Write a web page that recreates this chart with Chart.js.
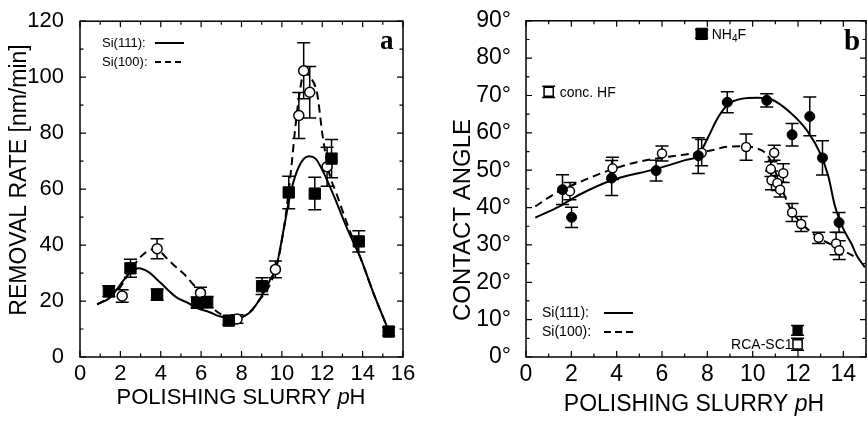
<!DOCTYPE html>
<html lang="en">
<head>
<meta charset="UTF-8">
<title>Removal rate and contact angle vs polishing slurry pH</title>
<script src="https://cdn.jsdelivr.net/npm/chart.js@4"></script>
<style>
  html, body { margin: 0; padding: 0; background: #fff; overflow: hidden; }
  body { position: relative; width: 867px; height: 421px; }
  canvas { position: absolute; top: 0; }
  #chartA { left: 0; }
  #chartB { left: 430px; }
</style>
</head>
<body>
<canvas id="chartA" width="430" height="421"></canvas>
<canvas id="chartB" width="445" height="421"></canvas>

<script>
const FONT = '"Liberation Sans", Arial, Helvetica, sans-serif';
const SERIF = '"Liberation Serif", "Times New Roman", serif';

// ---- panel a: removal rate [nm/min] vs pH ----
const rate111pH  = [1.43, 2.5, 3.82, 5.8, 6.3, 7.37, 9.02, 10.34, 11.63, 12.46, 13.81, 15.29];
const rate111    = [23.5, 31.7, 22.3, 19.4, 19.6, 13.0, 25.3, 58.8, 58.4, 70.9, 41.3, 9.1];
const rate111err = [2, 3.2, 2, 2, 2, 1.5, 3, 5.8, 5.8, 6.8, 3.8, 1.5];

const rate100pH  = [2.09, 3.82, 5.97, 7.78, 9.68, 10.84, 11.08, 11.38, 12.24];
const rate100    = [21.8, 38.7, 22.9, 13.6, 31.3, 86.3, 102.3, 94.6, 68.0];
const rate100err = [2.2, 3.6, 2, 1.5, 3, 8.2, 10, 9.2, 7];

const fitA111pH = [0.85, 1.5, 2.0, 2.5, 2.91, 3.4, 3.99, 4.8, 5.3, 5.8, 6.46, 6.8, 7.3, 7.7, 8.1, 8.5, 8.8, 9.1, 9.45, 9.7, 10.1, 10.43, 10.84, 11.34, 11.67, 12.08, 12.58, 13.24, 13.9, 14.56, 15.31];
const fitA111   = [18.8, 21.3, 25.9, 30.3, 31.7, 30.3, 26.5, 21.2, 19.5, 17.5, 15.9, 14.8, 14.0, 13.7, 14.5, 16.5, 19.5, 23, 28, 31.5, 46, 58.6, 68, 71.7, 70.9, 65.7, 57.5, 45.8, 35.3, 22.4, 9];

const fitA100pH = [0.85, 1.5, 2.0, 2.5, 3.0, 3.4, 3.82, 4.2, 4.7, 5.2, 5.6, 5.97, 6.5, 7.0, 7.5, 8.1, 8.8, 9.7, 10.1, 10.35, 10.5, 10.65, 10.85, 11.1, 11.4, 11.75, 12.0, 12.15, 12.35, 12.7, 13.24, 13.9, 14.56, 15.31];
const fitA100   = [18.8, 21.5, 25, 31, 35.8, 38, 38.7, 36, 32.5, 29.3, 26, 22.9, 18, 15.2, 13.8, 14.5, 19.5, 31.5, 46, 60, 70, 81, 93, 101.5, 100, 94, 80, 73, 65.5, 58.5, 47.5, 35.3, 22.4, 9];

const xTicksA = [0, 2, 4, 6, 8, 10, 12, 14, 16];
const yTicksA = [0, 20, 40, 60, 80, 100, 120];

// ---- panel b: contact angle [deg] vs pH ----
const ang111pH  = [1.61, 2.01, 3.78, 5.74, 7.6, 8.88, 10.62, 11.74, 12.52, 13.08, 13.81];
const ang111    = [44.8, 37.4, 47.9, 49.9, 53.9, 68.2, 68.7, 59.5, 64.4, 53.3, 36.0];
const ang111err = [4, 2.7, 4.7, 2.8, 4.8, 2.8, 1.8, 3, 5.2, 4.6, 2.7];

const ang100pH  = [1.94, 3.82, 6.0, 7.75, 9.71, 10.95, 10.8, 10.83, 11.35, 11.09, 11.21, 11.74, 12.14, 12.91, 13.68, 13.82];
const ang100    = [44.4, 50.5, 54.5, 54.7, 56.2, 54.7, 50.3, 47.3, 49.2, 46.6, 44.8, 38.7, 35.6, 31.9, 30.4, 28.6];
const ang100err = [2.3, 3, 2, 3.5, 3.5, 2, 2, 2.5, 2.5, 2, 2, 2.4, 2, 1.5, 3, 2.5];

const fitB111pH = [0.41, 1.5, 2.37, 3.82, 5.71, 7.02, 7.6, 8.04, 8.47, 8.91, 9.49, 10.22, 10.8, 11.67, 12.4, 12.98, 13.34, 13.63, 14.0, 14.36, 14.58, 14.95];
const fitB111   = [37.3, 40.4, 43.5, 47.4, 50.3, 52.7, 54, 58.9, 64.1, 67.6, 69.1, 69.4, 69, 65.4, 60.6, 54.5, 48.3, 40.4, 34.3, 30.3, 27.3, 24];

const fitB100pH = [0.41, 1.35, 2.59, 3.97, 4.98, 6.29, 7.6, 8.33, 8.77, 9.71, 10.2, 10.51, 10.8, 11.2, 11.67, 12.25, 12.98, 13.85, 14.45];
const fitB100   = [40.3, 44, 47.4, 50.6, 52.3, 53.6, 54.7, 55.5, 56.2, 56.4, 55.8, 54.9, 52.5, 46.5, 39.6, 35.2, 31.7, 29, 27];

// reference treatments
const hfPH = [1.0],    hfAng = [71],    hfErr = [1.5];
const nh4fPH = [7.75], nh4fAng = [86.5], nh4fErr = [1.2];
const sc1PH = [11.98], sc1Ang111 = [7.1], sc1Err111 = [1.3], sc1Ang100 = [3.4], sc1Err100 = [1.6];

const xTicksB = [0, 2, 4, 6, 8, 10, 12, 14];
const yTicksB = [0, 10, 20, 30, 40, 50, 60, 70, 80, 90];

function pts(xs, ys) {
    return xs.map((x, i) => ({ x: x, y: ys[i] }));
}

function fixTicks(list) {
    return s => { s.ticks = list.map(v => ({ value: v })); };
}

// box round the plot with inward ticks on all four sides
const frameTicks = {
    id: 'frameTicks',
    afterDatasetsDraw(chart, args, o) {
        const { ctx, chartArea: a, scales: { x, y } } = chart;
        ctx.save();
        ctx.strokeStyle = '#000';
        ctx.lineWidth = 1.5;
        ctx.strokeRect(a.left, a.top, a.right - a.left, a.bottom - a.top);
        ctx.lineWidth = 1.2;
        ctx.beginPath();
        for (let v = x.min; v <= x.max + 1e-6; v += o.xMinor) {
            const px = x.getPixelForValue(v);
            const len = Math.abs(v / o.xMajor - Math.round(v / o.xMajor)) < 1e-6 ? 6 : 3.5;
            ctx.moveTo(px, a.bottom); ctx.lineTo(px, a.bottom - len);
            ctx.moveTo(px, a.top); ctx.lineTo(px, a.top + len);
        }
        for (let v = y.min; v <= y.max + 1e-6; v += o.yMinor) {
            const py = y.getPixelForValue(v);
            const len = Math.abs(v / o.yMajor - Math.round(v / o.yMajor)) < 1e-6 ? 6 : 3.5;
            ctx.moveTo(a.left, py); ctx.lineTo(a.left + len, py);
            ctx.moveTo(a.right, py); ctx.lineTo(a.right - len, py);
        }
        ctx.stroke();
        ctx.restore();
    }
};

// vertical error bars with caps, from the dataset's err list
const errorBars = {
    id: 'errorBars',
    beforeDatasetsDraw(chart) {
        const { ctx, scales: { x, y } } = chart;
        ctx.save();
        ctx.strokeStyle = '#000';
        ctx.lineWidth = 1.5;
        chart.data.datasets.forEach(ds => {
            if (!ds.err) return;
            ds.data.forEach((p, i) => {
                const e = ds.err[i];
                const px = x.getPixelForValue(p.x);
                const t = y.getPixelForValue(p.y + e);
                const b = y.getPixelForValue(p.y - e);
                ctx.beginPath();
                ctx.moveTo(px, t); ctx.lineTo(px, b);
                ctx.moveTo(px - 6.5, t); ctx.lineTo(px + 6.5, t);
                ctx.moveTo(px - 6.5, b); ctx.lineTo(px + 6.5, b);
                ctx.stroke();
            });
        });
        ctx.restore();
    }
};

function xTitle(ctx, cx, cy, size) {
    const a = 'POLISHING SLURRY ', p = 'p', h = 'H';
    const normal = size + 'px ' + FONT, italic = 'italic ' + size + 'px ' + FONT;
    ctx.font = normal;
    const wa = ctx.measureText(a).width, wh = ctx.measureText(h).width;
    ctx.font = italic;
    const wp = ctx.measureText(p).width;
    const x0 = cx - (wa + wp + wh) / 2;
    ctx.textAlign = 'left';
    ctx.textBaseline = 'middle';
    ctx.font = normal; ctx.fillText(a, x0, cy);
    ctx.font = italic; ctx.fillText(p, x0 + wa, cy);
    ctx.font = normal; ctx.fillText(h, x0 + wa + wp, cy);
}

function yTitle(ctx, text, cx, cy, size) {
    ctx.save();
    ctx.translate(cx, cy);
    ctx.rotate(-Math.PI / 2);
    ctx.font = size + 'px ' + FONT;
    ctx.textAlign = 'center';
    ctx.textBaseline = 'middle';
    ctx.fillText(text, 0, 0);
    ctx.restore();
}

function legendRows(ctx, x, y1, y2, lineX0, lineX1, size, dash) {
    ctx.font = size + 'px ' + FONT;
    ctx.textAlign = 'left';
    ctx.textBaseline = 'alphabetic';
    ctx.fillText('Si(111):', x, y1);
    ctx.fillText('Si(100):', x, y2);
    ctx.lineWidth = 2;
    ctx.beginPath();
    ctx.moveTo(lineX0, y1 - 4); ctx.lineTo(lineX1, y1 - 4);
    ctx.stroke();
    ctx.setLineDash(dash);
    ctx.beginPath();
    ctx.moveTo(lineX0, y2 - 4); ctx.lineTo(lineX1, y2 - 4);
    ctx.stroke();
    ctx.setLineDash([]);
}

const textA = {
    id: 'textA',
    afterDraw(chart) {
        const ctx = chart.ctx;
        ctx.save();
        ctx.fillStyle = '#000';
        ctx.strokeStyle = '#000';
        xTitle(ctx, 241, 398, 22);
        yTitle(ctx, 'REMOVAL RATE [nm/min]', 20, 180, 23);
        legendRows(ctx, 102, 47, 66, 155, 184, 13, [6, 4]);
        ctx.font = 'bold 27px ' + SERIF;
        ctx.textAlign = 'left';
        ctx.textBaseline = 'alphabetic';
        ctx.fillText('a', 380, 49);
        ctx.restore();
    }
};

const textB = {
    id: 'textB',
    afterDraw(chart) {
        const { ctx, scales: { x, y } } = chart;
        ctx.save();
        ctx.fillStyle = '#000';
        ctx.strokeStyle = '#000';
        xTitle(ctx, 264, 405, 23);
        yTitle(ctx, 'CONTACT ANGLE', 33, 220, 24);
        legendRows(ctx, 112, 317, 336, 174, 203, 14, [7, 4]);

        ctx.font = '14px ' + FONT;
        ctx.textBaseline = 'alphabetic';
        ctx.textAlign = 'left';
        ctx.fillText('conc. HF', x.getPixelForValue(hfPH[0]) + 11, y.getPixelForValue(hfAng[0]) + 5);

        let nx = x.getPixelForValue(nh4fPH[0]) + 10;
        const ny = y.getPixelForValue(nh4fAng[0]) + 5;
        ctx.fillText('NH', nx, ny);
        nx += ctx.measureText('NH').width;
        ctx.font = '10px ' + FONT;
        ctx.fillText('4', nx, ny + 3);
        nx += ctx.measureText('4').width;
        ctx.font = '14px ' + FONT;
        ctx.fillText('F', nx, ny);

        ctx.textAlign = 'right';
        ctx.fillText('RCA-SC1', x.getPixelForValue(sc1PH[0]) - 5, y.getPixelForValue(sc1Ang100[0]) + 5);

        ctx.font = 'bold 29px ' + SERIF;
        ctx.textAlign = 'left';
        ctx.fillText('b', 414, 50);
        ctx.restore();
    }
};

function tickFont(size) {
    return { family: FONT, size: size };
}

new Chart(document.getElementById('chartA'), {
    type: 'scatter',
    data: {
        datasets: [
            { data: pts(fitA111pH, fitA111), showLine: true, borderColor: '#000', borderWidth: 2, pointRadius: 0, cubicInterpolationMode: 'monotone', order: 4 },
            { data: pts(fitA100pH, fitA100), showLine: true, borderColor: '#000', borderWidth: 2, borderDash: [8, 5], pointRadius: 0, cubicInterpolationMode: 'monotone', order: 3 },
            { data: pts(rate111pH, rate111), err: rate111err, pointStyle: 'rect', pointRadius: 8, backgroundColor: '#000', borderColor: '#000', borderWidth: 1, order: 1 },
            { data: pts(rate100pH, rate100), err: rate100err, pointStyle: 'circle', pointRadius: 5, backgroundColor: '#fff', borderColor: '#000', borderWidth: 1.5, order: 2 }
        ]
    },
    options: {
        responsive: false,
        animation: false,
        devicePixelRatio: 1,
        layout: { padding: { top: 16, right: 27, left: 0, bottom: 0 } },
        plugins: {
            legend: { display: false },
            tooltip: { enabled: false },
            frameTicks: { xMajor: 2, xMinor: 1, yMajor: 20, yMinor: 10 }
        },
        scales: {
            x: {
                type: 'linear', min: 0, max: 16,
                afterBuildTicks: fixTicks(xTicksA),
                ticks: { padding: -4, color: '#000', font: tickFont(22), maxRotation: 0, autoSkip: false },
                grid: { display: false }, border: { display: false },
                afterFit: s => { s.height = 64; }
            },
            y: {
                min: 0, max: 120,
                afterBuildTicks: fixTicks(yTicksA),
                ticks: { padding: 8, color: '#000', font: tickFont(22), autoSkip: false },
                grid: { display: false }, border: { display: false },
                afterFit: s => { s.width = 80; }
            }
        }
    },
    plugins: [errorBars, frameTicks, textA]
});

new Chart(document.getElementById('chartB'), {
    type: 'scatter',
    data: {
        datasets: [
            { data: pts(fitB111pH, fitB111), showLine: true, borderColor: '#000', borderWidth: 2, pointRadius: 0, cubicInterpolationMode: 'monotone', order: 6 },
            { data: pts(fitB100pH, fitB100), showLine: true, borderColor: '#000', borderWidth: 2, borderDash: [8, 5], pointRadius: 0, cubicInterpolationMode: 'monotone', order: 5 },
            { data: pts(ang100pH, ang100), err: ang100err, pointStyle: 'circle', pointRadius: 4.5, backgroundColor: '#fff', borderColor: '#000', borderWidth: 1.5, order: 4 },
            { data: pts(ang111pH, ang111), err: ang111err, pointStyle: 'circle', pointRadius: 5, backgroundColor: '#000', borderColor: '#000', borderWidth: 1, order: 3 },
            { data: pts(hfPH, hfAng), err: hfErr, pointStyle: 'rect', pointRadius: 6.5, backgroundColor: '#fff', borderColor: '#000', borderWidth: 1.5, order: 2 },
            { data: pts(nh4fPH, nh4fAng), err: nh4fErr, pointStyle: 'rect', pointRadius: 8, backgroundColor: '#000', borderColor: '#000', borderWidth: 1, order: 2 },
            { data: pts(sc1PH, sc1Ang100), err: sc1Err100, pointStyle: 'rect', pointRadius: 6.5, backgroundColor: '#fff', borderColor: '#000', borderWidth: 1.5, order: 2 },
            { data: pts(sc1PH, sc1Ang111), err: sc1Err111, pointStyle: 'rect', pointRadius: 6.5, backgroundColor: '#000', borderColor: '#000', borderWidth: 1, order: 1 }
        ]
    },
    options: {
        responsive: false,
        animation: false,
        devicePixelRatio: 1,
        layout: { padding: { top: 15, right: 5, left: 0, bottom: 0 } },
        plugins: {
            legend: { display: false },
            tooltip: { enabled: false },
            frameTicks: { xMajor: 2, xMinor: 1, yMajor: 10, yMinor: 5 }
        },
        scales: {
            x: {
                type: 'linear', min: 0, max: 15,
                afterBuildTicks: fixTicks(xTicksB),
                ticks: { padding: -4, color: '#000', font: tickFont(23), maxRotation: 0, autoSkip: false },
                grid: { display: false }, border: { display: false },
                afterFit: s => { s.height = 64; }
            },
            y: {
                min: 0, max: 90,
                afterBuildTicks: fixTicks(yTicksB),
                ticks: { padding: 7, color: '#000', font: tickFont(23), autoSkip: false, callback: v => v + '°' },
                grid: { display: false }, border: { display: false },
                afterFit: s => { s.width = 96; }
            }
        }
    },
    plugins: [errorBars, frameTicks, textB]
});
</script>
</body>
</html>
